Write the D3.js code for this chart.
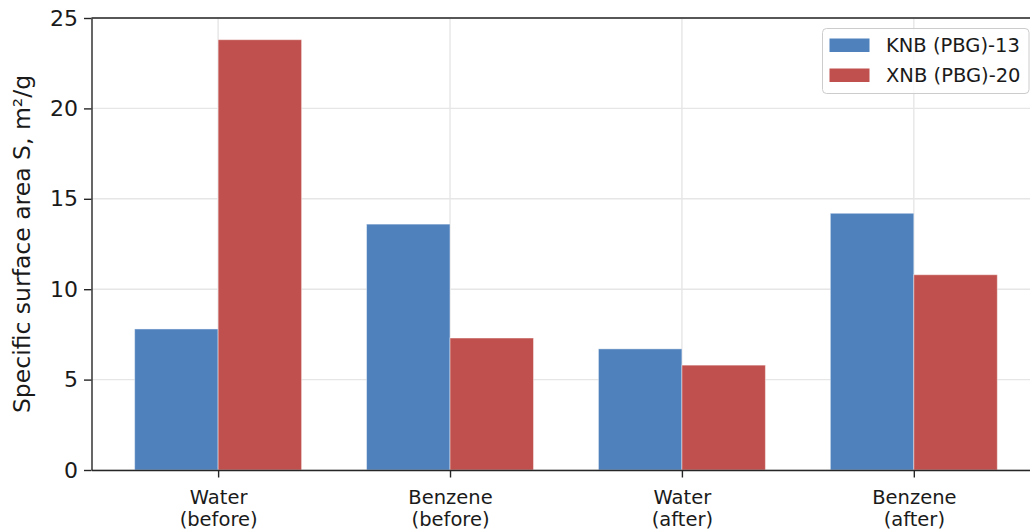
<!DOCTYPE html>
<html>
<head>
<meta charset="utf-8">
<script src="https://cdn.jsdelivr.net/npm/d3@7"></script>
<style>
  html, body { margin: 0; padding: 0; background: #fff; }
  svg { display: block; font-family: "DejaVu Sans", sans-serif; }
</style>
</head>
<body>
<svg id="chart" width="1030" height="529"></svg>
<script>
// Specific surface area of two samples, measured with water and benzene
const categories = [["Water", "(before)"], ["Benzene", "(before)"], ["Water", "(after)"], ["Benzene", "(after)"]];
const seriesNames = ["KNB (PBG)-13", "XNB (PBG)-20"];
const knbValues = [7.8, 13.6, 6.7, 14.2];
const xnbValues = [23.8, 7.3, 5.8, 10.8];
const yTicks = [0, 5, 10, 15, 20, 25];
const seriesColors = ["#4f81bd", "#c0504d"];

const svg = d3.select("#chart");

const plotLeft = 91.5, plotTop = 18, plotBottom = 470;
const pxPerUnit = 231.9;
const barWidth = 0.36;
const xDomain = [-0.546, 3.546];
const plotRight = plotLeft + (xDomain[1] - xDomain[0]) * pxPerUnit;

const x = d3.scaleLinear().domain(xDomain).range([plotLeft, plotRight]);
const y = d3.scaleLinear().domain([0, 25]).range([plotBottom, plotTop]);

const gridColor = "#e6e6e6";
const spineColor = "#262626";

// grid
const grid = svg.append("g");
grid.selectAll("line.h").data(yTicks).join("line")
  .attr("x1", plotLeft).attr("x2", plotRight)
  .attr("y1", d => y(d)).attr("y2", d => y(d))
  .attr("stroke", gridColor).attr("stroke-width", 1.4);
grid.selectAll("line.v").data(categories.map((c, i) => i)).join("line")
  .attr("x1", d => x(d)).attr("x2", d => x(d))
  .attr("y1", plotTop).attr("y2", plotBottom)
  .attr("stroke", gridColor).attr("stroke-width", 1.4);

// bars
const series = [knbValues, xnbValues];
series.forEach((vals, s) => {
  svg.append("g").selectAll("rect").data(vals).join("rect")
    .attr("x", (d, i) => s === 0 ? x(i - barWidth) : x(i))
    .attr("width", x(barWidth) - x(0))
    .attr("y", d => y(d))
    .attr("height", d => y(0) - y(d))
    .attr("fill", seriesColors[s])
    .attr("stroke", "#ffffff").attr("stroke-opacity", 0.45).attr("stroke-width", 1);
});

// y axis
const yAxis = svg.append("g")
  .attr("transform", `translate(${plotLeft},0)`)
  .call(d3.axisLeft(y).tickValues(yTicks).tickSize(7.5).tickSizeOuter(0).tickPadding(6));
yAxis.select(".domain").attr("stroke", spineColor).attr("stroke-width", 1.4);
yAxis.selectAll(".tick line").attr("stroke", spineColor).attr("stroke-width", 1.4);
yAxis.selectAll(".tick text").attr("font-size", 22).attr("fill", "#1a1a1a")
  .attr("font-family", "DejaVu Sans");

// x axis
const xAxis = svg.append("g")
  .attr("transform", `translate(0,${plotBottom})`)
  .call(d3.axisBottom(x).tickValues(categories.map((c, i) => i)).tickSize(7.5).tickSizeOuter(0).tickFormat(""));
xAxis.select(".domain").attr("stroke", spineColor).attr("stroke-width", 1.4);
xAxis.selectAll(".tick line").attr("stroke", spineColor).attr("stroke-width", 1.4);
xAxis.selectAll(".tick").each(function(d) {
  const t = d3.select(this).append("text")
    .attr("fill", "#1a1a1a").attr("font-size", 19.5).attr("text-anchor", "middle")
    .attr("font-family", "DejaVu Sans");
  categories[d].forEach((line, k) => {
    t.append("tspan").attr("x", 0).attr("y", 34 + k * 21.5).text(line);
  });
});

// top spine
svg.append("line")
  .attr("x1", plotLeft).attr("x2", plotRight)
  .attr("y1", y(25)).attr("y2", y(25))
  .attr("stroke", spineColor).attr("stroke-width", 1.4);

// y label
svg.append("text")
  .attr("transform", `translate(29.5,${(plotTop + plotBottom) / 2}) rotate(-90)`)
  .attr("text-anchor", "middle").attr("font-size", 23.5).attr("fill", "#1a1a1a")
  .text("Specific surface area S, m²/g");

// legend
const legend = svg.append("g").attr("transform", "translate(822.5,28.5)");
legend.append("rect")
  .attr("width", 206.5).attr("height", 65).attr("rx", 4)
  .attr("fill", "#ffffff").attr("fill-opacity", 0.8)
  .attr("stroke", "#cccccc").attr("stroke-width", 1);
seriesNames.forEach((name, i) => {
  const g = legend.append("g").attr("transform", `translate(0,${10 + i * 30})`);
  g.append("rect").attr("x", 7).attr("y", 0).attr("width", 40).attr("height", 13.5)
    .attr("fill", seriesColors[i]);
  g.append("text").attr("x", 63.5).attr("y", 13.5).attr("font-size", 19.5)
    .attr("fill", "#1a1a1a").text(name);
});
</script>
</body>
</html>
